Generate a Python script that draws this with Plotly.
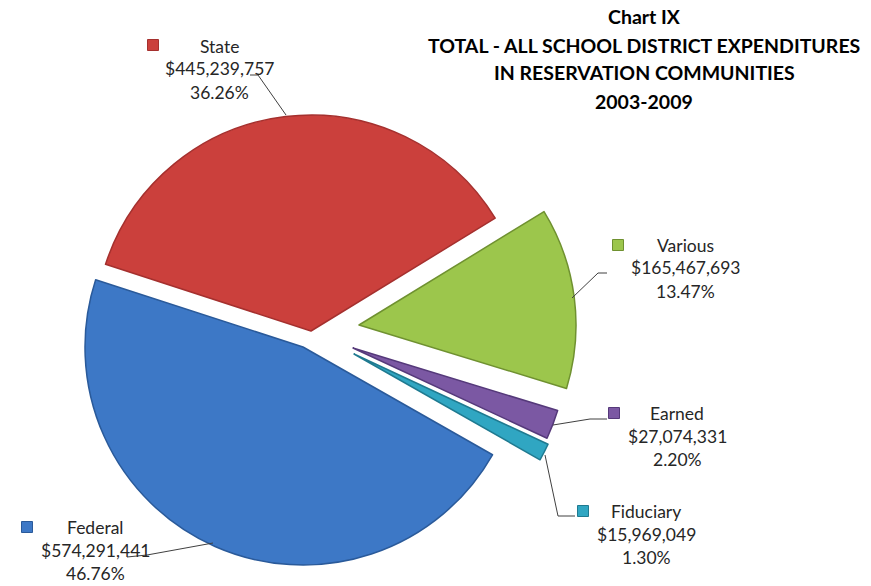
import plotly.graph_objects as go

W, H = 871, 586
categories = ["Various", "Earned", "Fiduciary", "Federal", "State"]
amounts = [165467693, 27074331, 15969049, 574291441, 445239757]
amount_labels = ["$165,467,693", "$27,074,331", "$15,969,049", "$574,291,441", "$445,239,757"]
percent_labels = ["13.47%", "2.20%", "1.30%", "46.76%", "36.26%"]
title_lines = ["Chart IX", "TOTAL - ALL SCHOOL DISTRICT EXPENDITURES",
               "IN RESERVATION COMMUNITIES", "2003-2009"]

colors = ["#9CC64C", "#7B58A3", "#30A6C2", "#3D78C6", "#CB403C"]
edges = ["#6F9130", "#55397A", "#1F7A90", "#2A5A9A", "#A5302E"]
# slice apex (x, y), radius in pixels
apex = [(359, 325, 217), (353, 348, 214), (354, 354, 214), (303, 347, 218), (311, 331, 216)]
label_xy = [(685, 245), (677, 413), (646, 511), (95, 527), (220, 46)]
marker_xy = [(618, 245), (614, 413), (583, 511), (27, 527), (153, 45)]
leaders = [
    [(572, 298), (598, 273), (607, 273)],
    [(553, 425), (590, 419), (607, 419)],
    [(545, 455), (558, 516), (575, 516)],
    [(213, 543), (147, 555), (127, 557)],
    [(286, 115), (258, 75), (250, 75)],
]

total = sum(amounts)
fig = go.Figure()
start = 58.5
for i, name in enumerate(categories):
    cx, cy, r = apex[i]
    fig.add_trace(go.Pie(
        values=[amounts[i], total - amounts[i]],
        labels=[name, "rest"],
        sort=False, direction="clockwise", rotation=start,
        textinfo="none", hoverinfo="skip", showlegend=False,
        marker=dict(colors=[colors[i], "rgba(0,0,0,0)"],
                    line=dict(color=[edges[i], "rgba(0,0,0,0)"], width=[1.5, 0])),
        domain=dict(x=[(cx - r) / W, (cx + r) / W], y=[1 - (cy + r) / H, 1 - (cy - r) / H]),
    ))
    start += amounts[i] / total * 360

FONT = "Lato"
ann = []
def txt(x, y, s, size=17.5, bold=False):
    ann.append(dict(x=x / W, y=1 - y / H, xref="paper", yref="paper", text=f"<b>{s}</b>" if bold else s,
                    showarrow=False, xanchor="center", yanchor="middle",
                    font=dict(family=FONT, size=size, color="#000000" if bold else "#262626")))

for line, y in zip(title_lines, [17, 45, 73, 101]):
    txt(644, y, line, size=19.5, bold=True)
for i, name in enumerate(categories):
    x, y = label_xy[i]
    txt(x, y, name)
    txt(x, y + 23, amount_labels[i])
    txt(x, y + 46.5, percent_labels[i])

shapes = []
for pts in leaders:
    shapes.append(dict(type="path", path="M " + " L ".join(f"{x / W},{1 - y / H}" for x, y in pts),
                       xref="paper", yref="paper", line=dict(color="#404040", width=1)))
for i, (x, y) in enumerate(marker_xy):
    shapes.append(dict(type="rect", xref="paper", yref="paper",
                       x0=(x - 5.5) / W, x1=(x + 5.5) / W, y0=1 - (y + 5.5) / H, y1=1 - (y - 5.5) / H,
                       fillcolor=colors[i], line=dict(color=edges[i], width=1)))

fig.update_layout(width=W, height=H, margin=dict(l=0, r=0, t=0, b=0),
                  paper_bgcolor="white", plot_bgcolor="white",
                  annotations=ann, shapes=shapes, showlegend=False)
fig.write_html("out.html", post_script="document.body.style.margin='0';",
               config={"displayModeBar": False})
